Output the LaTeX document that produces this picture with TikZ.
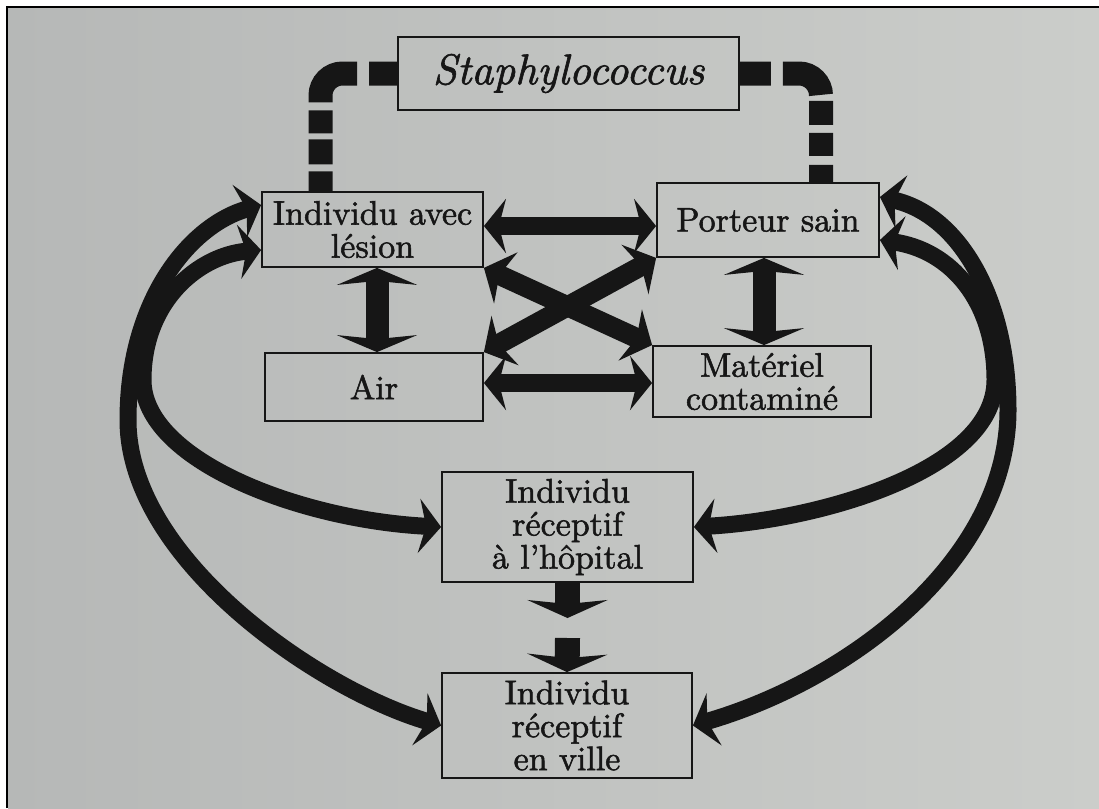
\documentclass[tikz,border=0pt]{standalone}
\usepackage{fontspec}
\newfontfamily\boxfont{lmroman10-regular.otf}[Ligatures=TeX, FakeBold=1.6, ItalicFont=lmroman10-italic.otf, ItalicFeatures={FakeBold=1.4}]
\usetikzlibrary{arrows.meta}
\definecolor{paperL}{RGB}{182,184,183}
\definecolor{paperR}{RGB}{203,205,202}
\definecolor{ink}{RGB}{22,22,22}
\tikzset{
  box/.style={draw=ink, line width=1.8pt, inner sep=0pt, align=center, text=ink,
    font=\boxfont\fontsize{34}{33}\selectfont},
  hdbl/.style={draw=ink, line width=18pt, {Stealth[length=22pt,width=54pt,inset=7pt]}-{Stealth[length=22pt,width=54pt,inset=7pt]}},
  ddbl/.style={draw=ink, line width=20pt, {Stealth[length=24pt,width=56pt,inset=7pt]}-{Stealth[length=24pt,width=56pt,inset=7pt]}},
  vdbl/.style={draw=ink, line width=23pt, {Stealth[length=17pt,width=80pt,inset=4pt]}-{Stealth[length=17pt,width=80pt,inset=4pt]}},
  down/.style={draw=ink, line width=25pt, -{Stealth[length=18pt,width=80pt,inset=4pt]}},
  curve/.style={draw=ink, line width=17pt, {Stealth[length=22pt,width=54pt,inset=7pt]}-{Stealth[length=22pt,width=54pt,inset=7pt]}},
  staphlink/.style={draw=ink, line width=24pt, line cap=butt, rounded corners=22pt}
}
\begin{document}
\begin{tikzpicture}[x=1pt,y=-1pt]
\useasboundingbox (0,0) rectangle (1099,808);
\fill[white] (0,0) rectangle (1099,808);
\shade[left color=paperL, right color=paperR] (8,8) rectangle (1099,808);
\draw[black, line width=2.5pt] (7,808) -- (7,7) -- (1099,7);

% nodes
\node[box, minimum width=341pt, minimum height=73pt, font=\boxfont\fontsize{43}{43}\selectfont\itshape] (staph) at (568.5,73.5) {Staphylococcus};
\node[box, minimum width=221pt, minimum height=75pt] (lesion) at (372.5,229.5) {Individu avec\\lésion};
\node[box, minimum width=218pt, minimum height=68pt] (air) at (374,387) {Air};
\node[box, minimum width=222pt, minimum height=74pt] (porteur) at (768,220) {Porteur sain};
\node[box, minimum width=218pt, minimum height=71pt] (materiel) at (762,381.5) {Matériel\\contaminé};
\node[box, minimum width=251pt, minimum height=110pt] (hopital) at (567.5,527) {Individu\\réceptif\\à l’hôpital};
\node[box, minimum width=250pt, minimum height=105pt] (ville) at (567,725.5) {Individu\\réceptif\\en ville};

% dashed links from Staphylococcus
\draw[staphlink, dash pattern=on 28pt off 12pt on 56pt off 8pt on 23pt off 6pt on 25pt off 7pt on 60pt off 0pt]
  (staph.west) -| ([xshift=-52pt]lesion.north);
\draw[staphlink, dash pattern=on 31pt off 12pt on 50pt off 6pt on 24pt off 8pt on 23pt off 9pt on 60pt off 0pt]
  (staph.east) -| ([xshift=53pt]porteur.north);

% horizontal double arrows
\draw[hdbl] (lesion.east |- 0,226) -- (porteur.west |- 0,226);
\draw[hdbl] (air.east |- 0,383) -- (materiel.west |- 0,383);
% diagonals
\draw[ddbl] (lesion.south east) -- (materiel.north west);
\draw[ddbl] (air.north east) -- (porteur.south west);
% vertical double arrows
\draw[vdbl] (lesion.south -| 377,0) -- (air.north -| 377,0);
\draw[vdbl] (porteur.south -| 764,0) -- (materiel.north -| 764,0);
% down arrows
\coordinate (d1) at (567.5,618);
\coordinate (d2) at (567.5,638);
\draw[down] (hopital.south) -- (d1);
\draw[down] (d2) -- (ville.north);

% big curves
\draw[curve] ([yshift=24.5pt]lesion.west) .. controls (190,225) and (128,300) .. (128,420)
  .. controls (128,560) and (320,690) .. (ville.west);
\draw[curve] ([yshift=-20.5pt]lesion.west) .. controls (200,255) and (143,300) .. (143,380)
  .. controls (143,460) and (300,520) .. (hopital.west);
\draw[curve] ([yshift=23pt]porteur.east) .. controls (960,215) and (1008,300) .. (1008,410)
  .. controls (1008,560) and (850,680) .. (ville.east);
\draw[curve] ([yshift=-20pt]porteur.east) .. controls (950,250) and (995,300) .. (995,380)
  .. controls (995,470) and (820,520) .. (hopital.east);
\end{tikzpicture}
\end{document}
